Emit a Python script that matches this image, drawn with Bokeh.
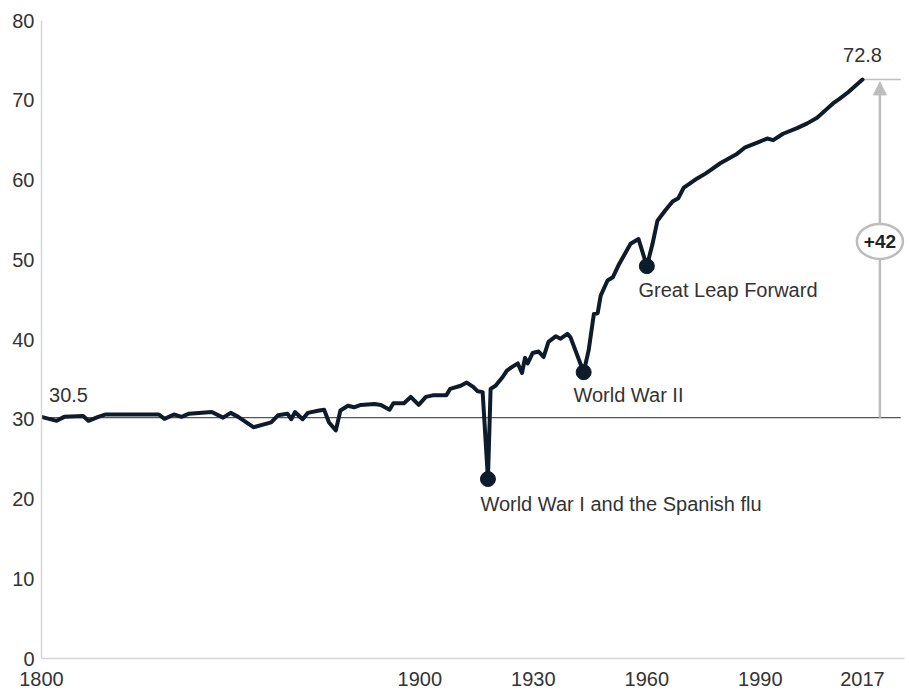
from bokeh.plotting import figure
from bokeh.models import FixedTicker, Range1d, Arrow, NormalHead
from bokeh.core.properties import value
from bokeh.embed import file_html
from bokeh.resources import INLINE

# ---- data ----
years = [1800, 1804, 1806, 1811, 1812.4, 1815, 1817, 1831, 1832.5, 1835, 1837, 1839,
         1845, 1848, 1850, 1852, 1856, 1860.7, 1862.5, 1865, 1866, 1867, 1869, 1870.4,
         1873.4, 1874.7, 1876, 1877.8, 1879, 1881, 1882.6, 1884.4, 1888, 1889.7, 1892,
         1893, 1895.8, 1897.6, 1899.7, 1901.6, 1903.4, 1905.5, 1907, 1908, 1910.8, 1912.4,
         1914, 1915.3, 1916.6, 1918, 1918.7, 1920, 1921.9, 1923, 1924.5, 1925.9, 1927,
         1927.8, 1928.5, 1929.8, 1931.4, 1932.7, 1934, 1935.9, 1937.2, 1939, 1939.8,
         1943.3, 1944.6, 1946, 1947, 1947.8, 1949.6, 1951, 1952.5, 1953.8, 1955.7, 1957.8,
         1960, 1961.5, 1962.8, 1964.9, 1966.8, 1968.3, 1969.7, 1971.5, 1973.3, 1975.5,
         1977.3, 1979.4, 1981.3, 1983.9, 1986, 1989.2, 1991.8, 1993.4, 1996, 1999.7,
         2002.4, 2005, 2007.1, 2009.2, 2011, 2013.2, 2017]
life_exp = [30.3, 29.8, 30.3, 30.4, 29.8, 30.3, 30.6, 30.6, 30.05, 30.6, 30.3, 30.7,
            30.9, 30.2, 30.8, 30.3, 29.0, 29.6, 30.5, 30.7, 30.0, 30.9, 30.0, 30.8,
            31.1, 31.2, 29.6, 28.6, 31.1, 31.7, 31.5, 31.8, 31.9, 31.8, 31.2,
            32.0, 32.0, 32.8, 31.8, 32.8, 33.0, 33.0, 33.0, 33.8, 34.2, 34.6,
            34.1, 33.5, 33.4, 22.5, 33.8, 34.2, 35.3, 36.1, 36.6, 37.0, 35.8,
            37.7, 37.0, 38.3, 38.5, 37.8, 39.7, 40.4, 40.1, 40.7, 40.3,
            35.9, 38.6, 43.2, 43.3, 45.5, 47.4, 47.8, 49.3, 50.4, 52.0, 52.6,
            49.2, 52.0, 54.9, 56.2, 57.3, 57.7, 59.0, 59.6, 60.2, 60.8,
            61.4, 62.1, 62.6, 63.3, 64.1, 64.7, 65.2, 65.0, 65.8, 66.5,
            67.1, 67.8, 68.7, 69.6, 70.2, 71.0, 72.6]

event_years = [1918, 1943.3, 1960]
event_values = [22.5, 35.9, 49.2]
event_labels = ["World War I and the Spanish flu", "World War II", "Great Leap Forward"]
event_label_x = [1916.0, 1940.6, 1957.8]
event_label_y = [19.4, 33.1, 46.2]

start_value = 30.2
start_label = "30.5"
end_year = 2017
end_value = 72.6
end_label = "72.8"
gain_label = "+42"
gain_x = 2021.6
gain_label_y = 52.3

x_ticks = [1800, 1900, 1930, 1960, 1990, 2017]
y_ticks = [0, 10, 20, 30, 40, 50, 60, 70, 80]

X_END = 2028.1      # right edge of the frame
LINE_END = 2027.1   # where the reference lines stop
FONT = "Liberation Sans"
FS = "20px"
TEXT = "#333333"
NAVY = "#0e1b2a"
GREY = "#bdbdbd"

p = figure(width=909, height=694, output_backend="svg", toolbar_location=None,
           x_range=Range1d(1800, X_END), y_range=Range1d(0, 80),
           min_border_left=41, min_border_right=5, min_border_top=20, min_border_bottom=36)
p.outline_line_color = None
p.xgrid.grid_line_color = None
p.ygrid.grid_line_color = None
p.background_fill_color = "white"

for ax in (p.xaxis[0], p.yaxis[0]):
    ax.axis_line_color = "#d6d6d6"
    ax.axis_line_width = 1.5
    ax.major_tick_line_color = None
    ax.minor_tick_line_color = None
    ax.major_tick_out = 0
    ax.major_tick_in = 0
    ax.minor_tick_out = 0
    ax.major_label_text_font = FONT
    ax.major_label_text_font_size = FS
    ax.major_label_text_color = TEXT
p.xaxis.ticker = FixedTicker(ticks=x_ticks)
p.yaxis.ticker = FixedTicker(ticks=y_ticks)
p.xaxis.major_label_standoff = 13
p.yaxis.major_label_standoff = 7

# baseline
p.segment(x0=[1800], y0=[start_value], x1=[LINE_END], y1=[start_value],
          line_color="#555555", line_width=1.3)
# top reference
p.segment(x0=[end_year], y0=[end_value], x1=[LINE_END], y1=[end_value],
          line_color=GREY, line_width=1.3)

# gain arrow
p.add_layout(Arrow(end=NormalHead(size=13, fill_color=GREY, line_color=GREY),
                   x_start=gain_x, y_start=start_value, x_end=gain_x, y_end=end_value - 0.3,
                   line_color=GREY, line_width=2.5))
ell = p.ellipse(x=[gain_x], y=[gain_label_y], width=[46], height=[35], width_units="screen",
                height_units="screen", fill_color="white", line_color=GREY, line_width=2.5)
ell.level = "overlay"
gt = p.text(x=[gain_x], y=[gain_label_y], text=[gain_label], text_align="center",
            text_baseline="middle", text_font=value(FONT), text_font_size="19px",
            text_font_style="bold", text_color="#222222")
gt.level = "overlay"

# main line
p.line(years, life_exp, line_color=NAVY, line_width=4, line_join="round", line_cap="round")

# event dots and labels
p.scatter(event_years, event_values, size=15, fill_color=NAVY, line_color=NAVY)
p.text(x=event_label_x, y=event_label_y, text=event_labels, text_align="left",
       text_baseline="middle", text_font=value(FONT), text_font_size=FS, text_color=TEXT)

# start / end labels
p.text(x=[1802], y=[33.1], text=[start_label], text_align="left", text_baseline="middle",
       text_font=value(FONT), text_font_size=FS, text_color=TEXT)
p.text(x=[end_year], y=[75.7], text=[end_label], text_align="center", text_baseline="middle",
       text_font=value(FONT), text_font_size=FS, text_color=TEXT)

open("out.html", "w").write(file_html(p, INLINE))
